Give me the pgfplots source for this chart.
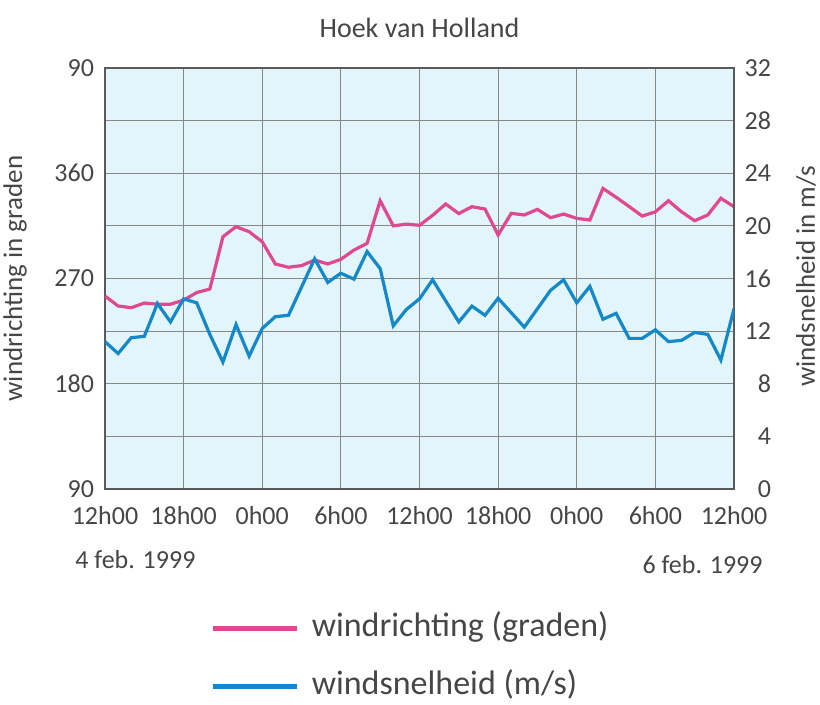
\documentclass[border=0pt]{standalone}
\usepackage{fontspec}
\setmainfont{Carlito}
\usepackage{pgfplots}
\usepackage{pgfplotstable}
\pgfplotsset{compat=1.18}

\definecolor{roze}{RGB}{224,72,146}
\definecolor{blauw}{RGB}{20,136,200}
\definecolor{achtergrond}{RGB}{226,245,250}
\definecolor{tekst}{RGB}{70,70,70}
\definecolor{rooster}{RGB}{135,135,135}
\definecolor{rand}{RGB}{90,90,90}

% uren na 4 feb 12h00, windrichting in graden
\pgfplotstableread{
h r
0 255
1 246.5
2 245
3 249
4 248
5 248
6 251.5
7 258
8 261
9 305.7
10 314.3
11 310
12 301.4
13 282.4
14 279.6
15 281
16 285.8
17 282.4
18 286.4
19 294.3
20 300
21 336.5
22 315
23 316.5
24 315.5
25 324
26 333.7
27 325.5
28 331.4
29 329.4
30 307.2
31 325.7
32 324.3
33 329.1
34 322
35 325.1
36 321.4
37 320
38 347
39 339.5
40 331.5
41 323.4
42 327
43 336.5
44 327
45 319.4
46 324.3
47 338.6
48 331.4
}\richting

% windsnelheid in m/s
\pgfplotstableread{
h v
0 11.2
1 10.3
2 11.5
3 11.6
4 14.1
5 12.7
6 14.45
7 14.15
8 11.75
9 9.65
10 12.5
11 10.1
12 12.2
13 13.1
14 13.2
15 15.35
16 17.5
17 15.7
18 16.4
19 15.95
20 18.05
21 16.75
22 12.4
23 13.65
24 14.45
25 15.9
26 14.3
27 12.7
28 13.9
29 13.2
30 14.5
31 13.4
32 12.3
33 13.7
34 15.1
35 15.9
36 14.15
37 15.4
38 12.9
39 13.35
40 11.45
41 11.45
42 12.1
43 11.2
44 11.3
45 11.9
46 11.75
47 9.8
48 13.7
}\snelheid

\begin{document}
\begin{tikzpicture}[font=\fontsize{13}{15}\selectfont, text=tekst]
\useasboundingbox (-52.5pt,-108pt) rectangle (357.5pt,244.5pt);
\pgfplotsset{
  basis/.style={
    width=314.5pt, height=210.5pt, scale only axis,
    at={(0,0)}, anchor=south west,
    xmin=0, xmax=48,
    major tick length=0pt, minor tick length=0pt,
    tick label style={font=\fontsize{13}{15}\selectfont, text=tekst},
    /pgf/number format/assume math mode=true,
  },
}
\begin{axis}[basis, name=main,
  axis background/.style={fill=achtergrond},
  axis line style={draw=rand, line width=0.8pt},
  xtick={0,6,...,48},
  xticklabels={12h00,18h00,0h00,6h00,12h00,18h00,0h00,6h00,12h00},
  ymin=90, ymax=450,
  ytick={90,180,270,360,450},
  yticklabels={90,180,270,360,90},
  minor ytick={135,225,315,405},
  xmajorgrids, ymajorgrids, yminorgrids,
  major grid style={draw=rooster, line width=0.5pt},
  minor grid style={draw=rooster, line width=0.5pt},
  xticklabel style={yshift=-5pt},
  yticklabel style={xshift=-2pt},
]
\addplot[roze, line width=1.6pt] table[x=h, y=r] {\richting};
\end{axis}

\begin{axis}[basis,
  axis x line=none, axis y line*=right,
  axis line style={draw=rand, line width=0.8pt},
  ymin=0, ymax=32, ytick={0,4,...,32},
  yticklabel style={xshift=1pt, text width=14pt, align=right},
  legend image code/.code={\draw[#1, line width=2.5pt] (0pt,0pt) -- (42pt,0pt);},
  legend cell align=left,
  legend style={at={(0.158,-0.40)}, anchor=west, draw=none, fill=none,
    font=\fontsize{17}{19}\selectfont, text=tekst,
    row sep=13pt, column sep=6pt,
    nodes={inner sep=0pt, text height=12pt, text depth=4pt}},
]
\addlegendimage{roze, line width=1.6pt}
\addlegendentry{windrichting (graden)}
\addplot[blauw, line width=1.6pt] table[x=h, y=v] {\snelheid};
\addlegendentry{windsnelheid (m/s)}
\end{axis}

\node[rotate=90, inner sep=0pt, font=\fontsize{13.5}{15}\selectfont] at ([xshift=36pt,yshift=1pt]main.east) {windsnelheid in m/s};
\node[rotate=90, inner sep=0pt, font=\fontsize{13.5}{15}\selectfont] at ([xshift=-45pt]main.west) {windrichting in graden};
\node[font=\fontsize{14}{16}\selectfont] at ([yshift=20pt]main.north) {Hoek van Holland};
\node[anchor=west, inner sep=0pt] at ([xshift=-15pt,yshift=-35.5pt]main.south west) {4 feb. 1999};
\node[anchor=east, inner sep=0pt] at ([xshift=14.5pt,yshift=-38pt]main.south east) {6 feb. 1999};
\end{tikzpicture}
\end{document}
